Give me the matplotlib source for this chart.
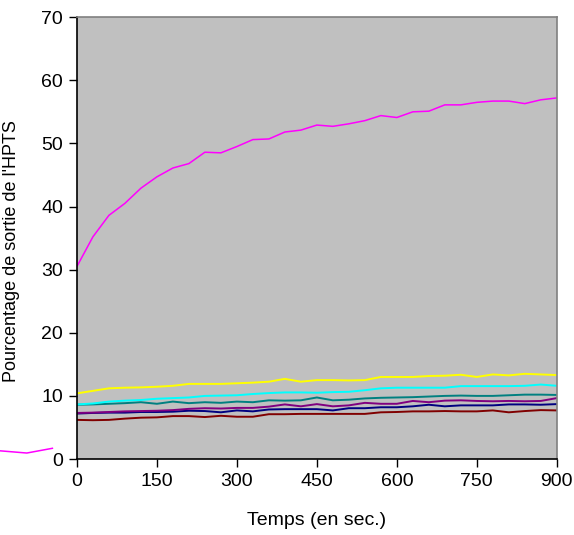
import matplotlib
matplotlib.use("Agg")
import matplotlib.pyplot as plt

plt.rcParams['font.family'] = ['Liberation Sans', 'DejaVu Sans']

# Time axis (seconds), one sample every 30 s
temps = list(range(0, 901, 30))

# HPTS release (%) for each formulation
serie_magenta = [30.5, 35.2, 38.6, 40.5, 42.9, 44.7, 46.1, 46.8, 48.6, 48.5,
                 49.5, 50.6, 50.7, 51.8, 52.1, 52.9, 52.7, 53.1, 53.6, 54.4,
                 54.1, 55.0, 55.1, 56.1, 56.1, 56.5, 56.7, 56.7, 56.3, 56.9, 57.2]
serie_jaune = [10.4, 10.8, 11.2, 11.3, 11.35, 11.45, 11.6, 11.9, 11.9, 11.9,
               12.0, 12.1, 12.25, 12.7, 12.25, 12.5, 12.5, 12.45, 12.5, 13.0,
               13.0, 13.0, 13.15, 13.2, 13.35, 13.0, 13.4, 13.25, 13.5, 13.4, 13.3]
serie_cyan = [8.65, 8.8, 9.1, 9.25, 9.35, 9.55, 9.65, 9.75, 10.0, 10.05,
              10.1, 10.3, 10.45, 10.55, 10.55, 10.5, 10.6, 10.65, 10.9, 11.2,
              11.3, 11.3, 11.3, 11.3, 11.55, 11.55, 11.55, 11.55, 11.6, 11.8, 11.6]
serie_sarcelle = [8.6, 8.65, 8.75, 8.85, 9.0, 8.75, 9.1, 8.85, 9.0, 8.9,
                  9.1, 9.0, 9.3, 9.25, 9.3, 9.75, 9.3, 9.4, 9.6, 9.7,
                  9.75, 9.8, 9.9, 10.0, 10.05, 10.0, 10.0, 10.1, 10.2, 10.2, 10.15]
serie_violet = [7.3, 7.35, 7.45, 7.55, 7.6, 7.65, 7.75, 7.95, 8.05, 8.0,
                8.1, 8.1, 8.3, 8.65, 8.35, 8.7, 8.35, 8.5, 8.9, 8.75,
                8.75, 9.2, 9.0, 9.25, 9.3, 9.2, 9.15, 9.2, 9.15, 9.2, 9.65]
serie_marine = [7.2, 7.3, 7.35, 7.35, 7.45, 7.45, 7.5, 7.65, 7.6, 7.4,
                7.7, 7.55, 7.85, 7.9, 7.9, 7.9, 7.7, 8.05, 8.05, 8.2,
                8.2, 8.35, 8.6, 8.35, 8.5, 8.5, 8.5, 8.65, 8.65, 8.6, 8.7]
serie_bordeaux = [6.2, 6.15, 6.2, 6.4, 6.55, 6.6, 6.8, 6.8, 6.65, 6.85,
                  6.7, 6.7, 7.1, 7.1, 7.15, 7.15, 7.15, 7.15, 7.15, 7.4,
                  7.45, 7.55, 7.55, 7.6, 7.55, 7.55, 7.7, 7.4, 7.6, 7.75, 7.7]

# Stray magenta segment sitting left of the plot area
temps_hors = [-144, -94, -46]
valeurs_hors = [1.3, 0.95, 1.7]

x_ticks = [0, 150, 300, 450, 600, 750, 900]
y_ticks = [0, 10, 20, 30, 40, 50, 60, 70]

fig = plt.figure(figsize=(5.74, 5.35), dpi=100)
ax = fig.add_axes([0.134, 0.142, 0.836, 0.826])
ax.set_facecolor('#C0C0C0')

series = [
    (serie_bordeaux, '#800000', 1.4),
    (serie_marine, '#000080', 1.4),
    (serie_violet, '#800080', 1.4),
    (serie_sarcelle, '#008080', 1.4),
    (serie_cyan, '#00FFFF', 1.4),
    (serie_jaune, '#FFFF00', 1.4),
    (serie_magenta, '#FF00FF', 1.1),
]
for vals, col, lw in series:
    ax.plot(temps, vals, color=col, lw=lw, solid_joinstyle='miter')

ax.plot(temps_hors, valeurs_hors, color='#FF00FF', lw=1.1, clip_on=False)

ax.set_xlim(0, 900)
ax.set_ylim(0, 70)
ax.set_xticks(x_ticks)
ax.set_yticks(y_ticks)
ax.tick_params(axis='both', direction='out', length=6, width=1,
               labelsize=14, colors='black', pad=4)

for side in ('left', 'bottom'):
    ax.spines[side].set_color('black')
    ax.spines[side].set_linewidth(1.2)
for side in ('right', 'top'):
    ax.spines[side].set_color('#808080')
    ax.spines[side].set_linewidth(1.2)

ax.set_xlabel('Temps (en sec.)', fontsize=14, labelpad=16)
ax.set_ylabel("Pourcentage de sortie de l'HPTS", fontsize=13)
ax.yaxis.set_label_coords(-0.118, 0.47)

fig.savefig('out.png', dpi=100)
